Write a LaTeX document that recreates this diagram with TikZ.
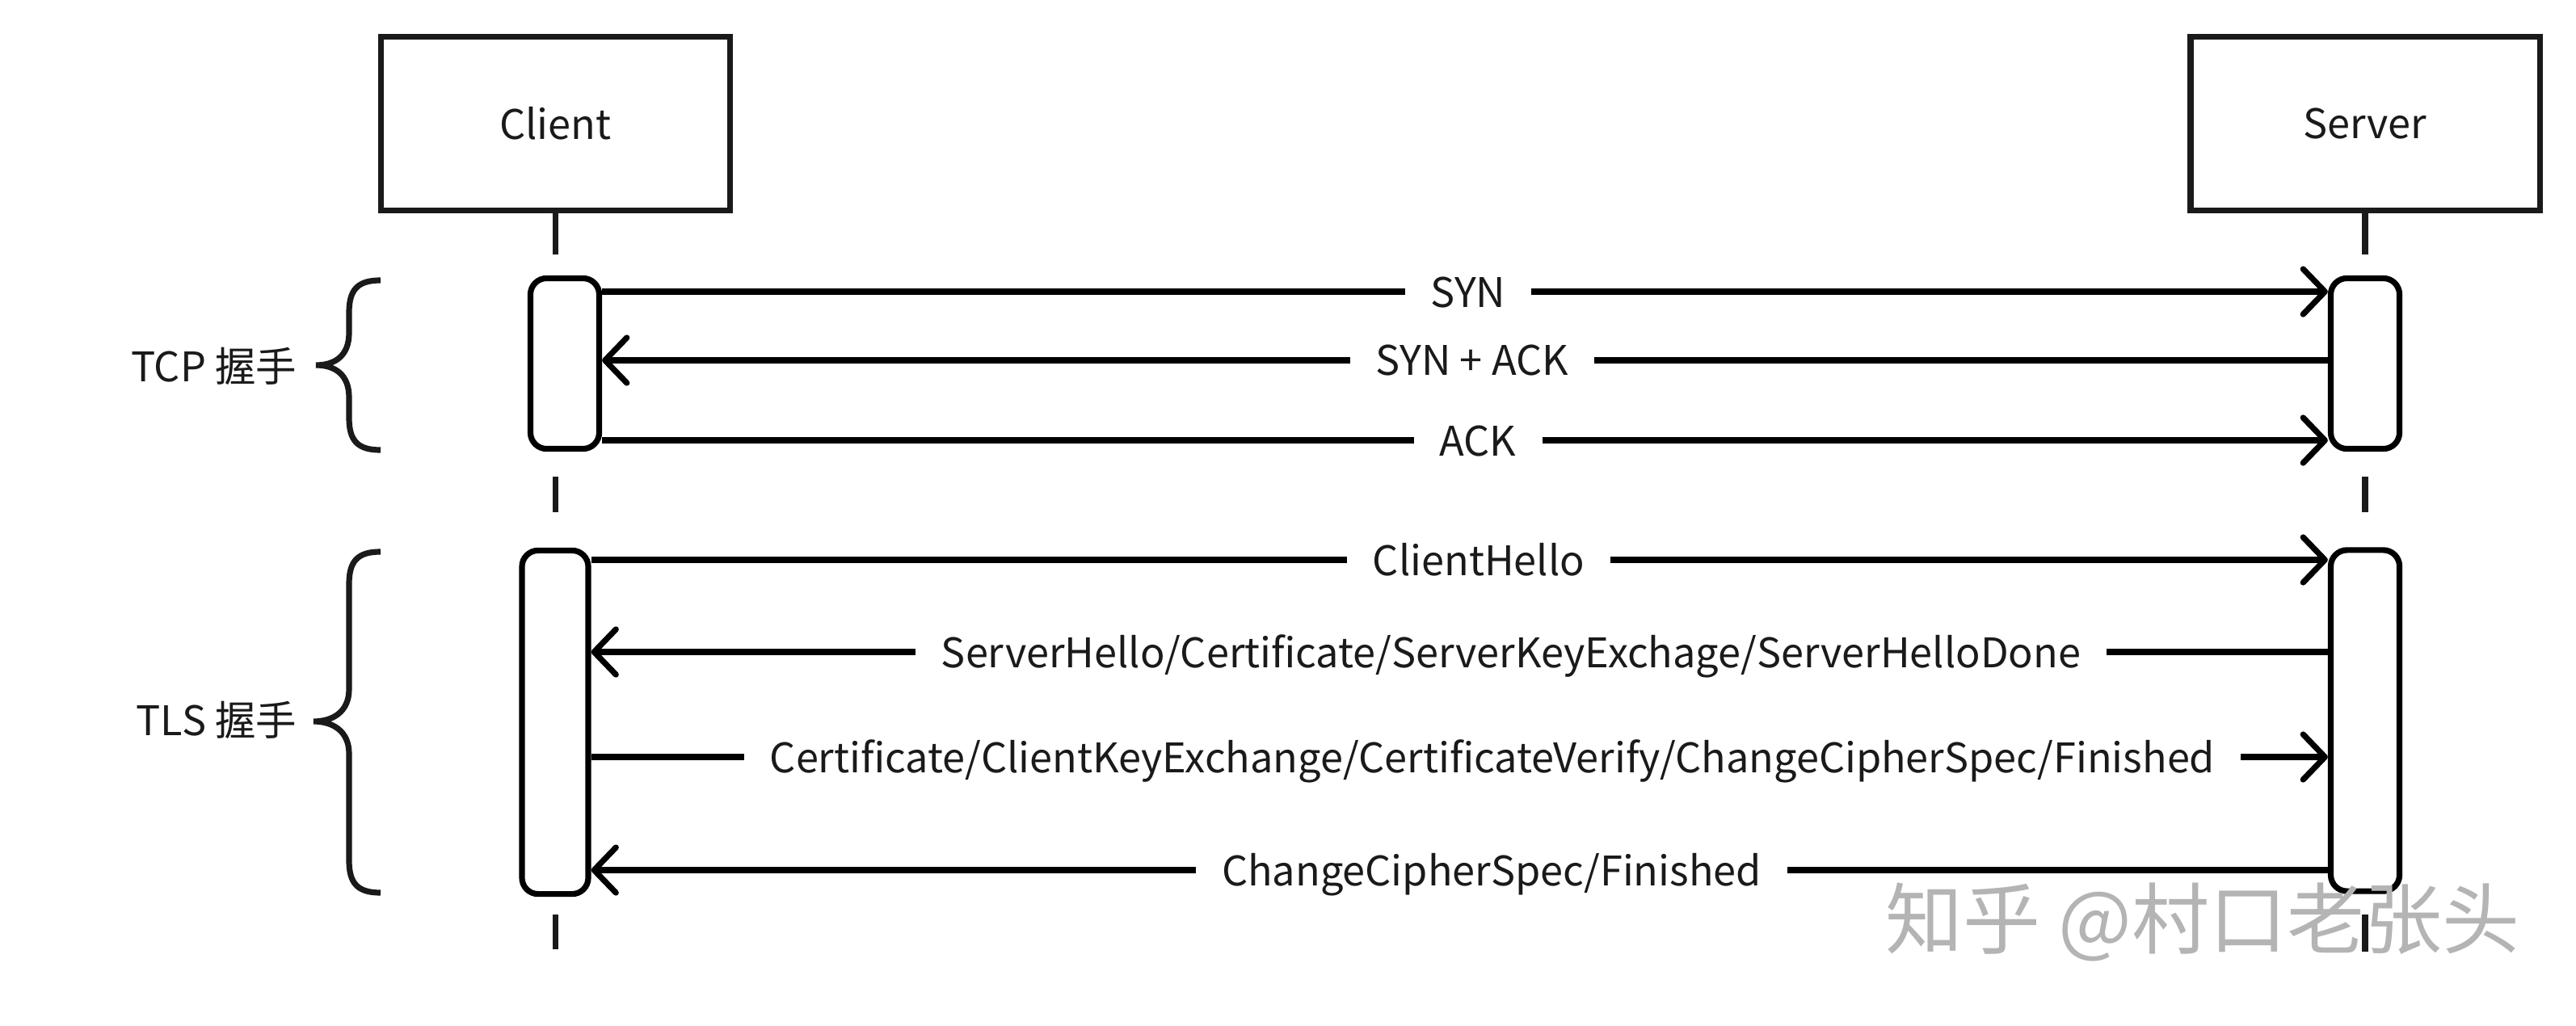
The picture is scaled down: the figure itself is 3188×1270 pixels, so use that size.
\documentclass[tikz,border=0pt]{standalone}
\usepackage{fontspec}
\setmainfont{Noto Sans CJK SC}
\usetikzlibrary{arrows.meta}
\definecolor{ink}{HTML}{1A1A1A}
\definecolor{wm}{HTML}{B4B4B4}
\begin{document}
\begin{tikzpicture}[x=0.01cm,y=-0.01cm,
  every node/.style={font=\fontsize{14.35pt}{17pt}\selectfont, text=ink},
  actor/.style={draw=ink, line width=0.072cm, minimum width=4.32cm, minimum height=2.15cm, inner sep=0},
  act/.style={draw=black, fill=white, line width=0.072cm, rounded corners=0.2cm, inner sep=0},
  life/.style={draw=ink, line width=0.072cm},
  msg/.style={draw=black, line width=0.072cm},
  toarr/.style={msg, -{Straight Barb[length=0.27cm,width=0.56cm,round]}},
  lbl/.style={fill=white, inner xsep=0.32cm, inner ysep=0.05cm, anchor=base},
  brace/.style={draw=ink, line width=0.072cm},
  side/.style={anchor=base east, inner sep=0},
]
\useasboundingbox[fill=white] (0,0) rectangle (3188,1270);

% actors
\node[actor] (client) at (687.5,153) {Client};
\node[actor] (server) at (2927,153) {Server};

% lifelines
\draw[life] (client.south) -- (client.south |- 0,315);
\draw[life] (client.south |- 0,590) -- (client.south |- 0,634);
\draw[life] (client.south |- 0,1132) -- (client.south |- 0,1175);
\draw[life] (server.south) -- (server.south |- 0,315);
\draw[life] (server.south |- 0,590) -- (server.south |- 0,634);
\draw[life] (server.south |- 0,1132) -- (server.south |- 0,1178);

% activations
\node[act, minimum width=0.85cm, minimum height=2.11cm] (ctcp) at (699,450) {};
\node[act, minimum width=0.82cm, minimum height=4.25cm] (ctls) at (687,894) {};
\node[act, minimum width=0.85cm, minimum height=2.11cm] (stcp) at (2927,450) {};
\node[act, minimum width=0.85cm, minimum height=4.22cm] (stls) at (2927,892) {};

% messages
\draw[toarr] (ctcp.east |- 0,361) -- (stcp.west |- 0,361);
\draw[toarr] (stcp.west |- 0,446) -- (ctcp.east |- 0,446);
\draw[toarr] (ctcp.east |- 0,545) -- (stcp.west |- 0,545);
\draw[toarr] (ctls.east |- 0,693) -- (stls.west |- 0,693);
\draw[toarr] (stls.west |- 0,807) -- (ctls.east |- 0,807);
\draw[toarr] (ctls.east |- 0,937) -- (stls.west |- 0,937);
\draw[toarr] (stls.west |- 0,1077) -- (ctls.east |- 0,1077);

% message labels
\node[lbl] (m1) at (1817,380) {SYN};
\node[lbl] (m2) at (1822,465) {SYN + ACK};
\node[lbl] (m3) at (1829,564) {ACK};
\node[lbl] (m4) at (1830,712) {ClientHello};
\node[lbl] (m5) at (1870,826) {ServerHello/Certificate/ServerKeyExchage/ServerHelloDone};
\node[lbl] (m6) at (1847,956) {Certificate/ClientKeyExchange/CertificateVerify/ChangeCipherSpec/Finished};
\node[lbl] (m7) at (1846,1096) {ChangeCipherSpec/Finished};

% braces
\draw[brace] (471,347) .. controls (443,347) and (432,358) .. (432,387)
  -- (432,412) .. controls (432,440) and (415,452) .. (391,452)
  .. controls (415,452) and (432,464) .. (432,492)
  -- (432,517) .. controls (432,546) and (443,557) .. (471,557);
\draw[brace] (471,683) .. controls (443,683) and (432,694) .. (432,723)
  -- (432,853) .. controls (432,881) and (412,893) .. (388,893)
  .. controls (412,893) and (432,905) .. (432,933)
  -- (432,1065) .. controls (432,1094) and (443,1105) .. (471,1105);

\node[side] (tcp) at (368,472) {TCP 握手};
\node[side] (tls) at (368,910) {TLS 握手};

% watermark
\node[text=wm, font=\fontsize{27.3pt}{30pt}\selectfont, anchor=west, inner sep=0] (wmark) at (2333,1141) {知乎 @村口老张头};
\end{tikzpicture}
\end{document}
